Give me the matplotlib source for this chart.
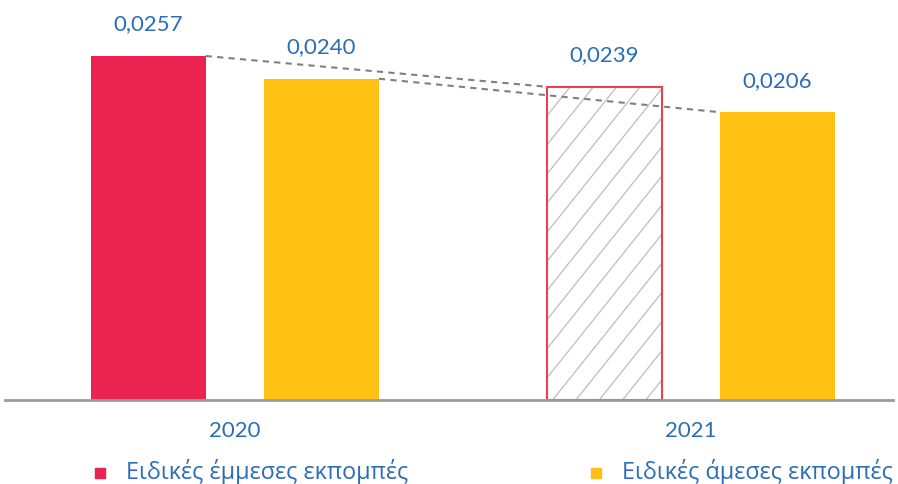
import numpy as np
import matplotlib.pyplot as plt
import matplotlib.transforms as mtransforms
from matplotlib.patches import Rectangle

# ============================================================
# Data
# ============================================================
years = ['2020', '2021']
indirect_labels = ['0,0257', '0,0239']
direct_labels = ['0,0240', '0,0206']
# bar heights as drawn in the picture
indirect = [0.0257, 0.0234]
direct = [0.0240, 0.0215]
legend_names = ['Ειδικές έμμεσες εκπομπές', 'Ειδικές άμεσες εκπομπές']

red = '#EA2350'
yellow = '#FDC013'
blue = '#2B6DB8'
grey = '#808080'

fam = ['Lato', 'DejaVu Sans']
leg_fam = ['Open Sans', 'DejaVu Sans']

# ============================================================
# Figure
# ============================================================
W, H = 898, 484
fig = plt.figure(figsize=(W / 100, H / 100), dpi=100)
ax = fig.add_axes([5 / W, 84 / H, 888 / W, 400 / H])

x = np.arange(len(years))
width = 0.252
off = 0.19

# 2020 indirect: solid red; 2021 indirect: hatched with red edge
ax.bar(x[0] - off, indirect[0], width, color=red, linewidth=0)
hb = ax.bar(x[1] - off, indirect[1], width, fill=False,
            edgecolor='#E8424F', linewidth=1.5, zorder=3)
ax.bar(x + off, direct, width, color=yellow, linewidth=0)

# custom hatch (steeper than the built-in '/'), clipped to the bar
rect = hb[0]
slope, step = 1.25, 23.3
for c in np.arange(-400, W + 400, step):
    ln, = ax.plot([c, c + H / slope], [0, H], color='#bdbdbd', lw=0.9,
                  transform=mtransforms.IdentityTransform(), zorder=2)
    ln.set_clip_path(rect)

# dashed trend lines between the years
ax.plot([x[0] - off + width / 2, x[1] - off - width / 2], indirect,
        ls=(0, (3, 2.5)), color=grey, lw=1.5, zorder=4)
ax.plot([x[0] + off + width / 2, x[1] + off - width / 2], direct,
        ls=(0, (3, 2.5)), color=grey, lw=1.5, zorder=4)

# value labels
pad = 0.0019
for i in range(len(years)):
    ax.text(x[i] - off, indirect[i] + pad, indirect_labels[i], ha='center',
            va='baseline', color=blue, fontsize=16, family=fam)
    ax.text(x[i] + off, direct[i] + pad, direct_labels[i], ha='center',
            va='baseline', color=blue, fontsize=16, family=fam)

ax.set_xlim(-0.504, 1.443)
ax.set_ylim(0, 0.0257 * 400 / 344)
ax.axhline(0, color='#9a9a9a', lw=2, clip_on=False, zorder=5)
for s in ax.spines.values():
    s.set_visible(False)
ax.set_yticks([])
ax.set_xticks(x)
ax.set_xticklabels(years, color=blue, fontsize=16, family=fam)
ax.tick_params(axis='x', length=0, pad=15)

# legend drawn by hand: square marker + text
leg_x = [95, 591]
for lx, clr, name in zip(leg_x, [red, yellow], legend_names):
    fig.add_artist(Rectangle((lx / W, (H - 478) / H), 10 / W, 10 / H,
                             color=clr, transform=fig.transFigure))
    fig.text((lx + 31) / W, (H - 472) / H, name, color=blue, fontsize=16.8,
             family=leg_fam, va='center', ha='left')

fig.savefig('out.png', dpi=100)
